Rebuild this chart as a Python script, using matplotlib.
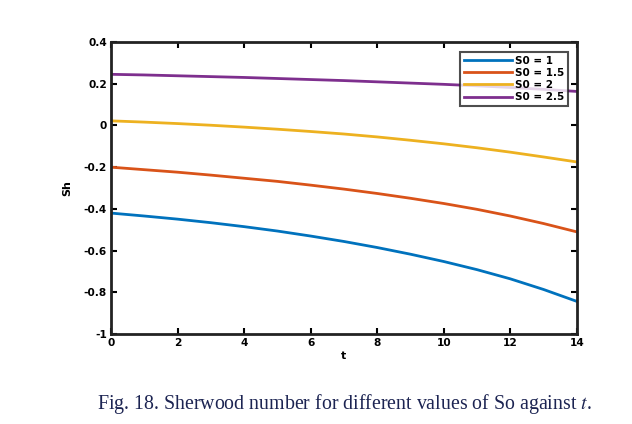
import matplotlib
matplotlib.use("Agg")
import matplotlib.pyplot as plt
import numpy as np

t = [0, 1, 2, 3, 4, 5, 6, 7, 8, 9, 10, 11, 12, 13, 14]
sh_s1 = [-0.420, -0.434, -0.449, -0.466, -0.485, -0.506, -0.530, -0.556, -0.585, -0.617, -0.652, -0.691, -0.735, -0.786, -0.843]
sh_s15 = [-0.200, -0.212, -0.224, -0.238, -0.253, -0.268, -0.286, -0.305, -0.326, -0.349, -0.374, -0.402, -0.434, -0.470, -0.510]
sh_s2 = [0.022, 0.016, 0.009, 0.001, -0.008, -0.018, -0.029, -0.041, -0.055, -0.071, -0.088, -0.107, -0.128, -0.151, -0.175]
sh_s25 = [0.245, 0.242, 0.238, 0.234, 0.230, 0.225, 0.220, 0.215, 0.209, 0.203, 0.197, 0.190, 0.182, 0.173, 0.163]
labels = ["S0 = 1", "S0 = 1.5", "S0 = 2", "S0 = 2.5"]
colors = ["#0072BD", "#D95319", "#EDB120", "#7E2F8E"]
xticks = [0, 2, 4, 6, 8, 10, 12, 14]
yticks = [-1, -0.8, -0.6, -0.4, -0.2, 0, 0.2, 0.4]
ytick_labels = ["-1", "-0.8", "-0.6", "-0.4", "-0.2", "0", "0.2", "0.4"]

plt.rcParams['font.family'] = ['DejaVu Sans']
fig = plt.figure(figsize=(6.32, 4.24), dpi=100)
ax = fig.add_axes([0.1756, 0.212, 0.737, 0.689])

for y, lab, c in zip([sh_s1, sh_s15, sh_s2, sh_s25], labels, colors):
    ax.plot(t, y, color=c, lw=2.0, label=lab)

ax.set_xlim(0, 14)
ax.set_ylim(-1, 0.4)
ax.set_xticks(xticks)
ax.set_xticklabels([str(v) for v in xticks], fontweight='bold', fontsize=7.6)
ax.set_yticks(yticks)
ax.set_yticklabels(ytick_labels, fontweight='bold', fontsize=7.6)
ax.tick_params(direction='in', length=4, width=1.5, top=True, right=True, pad=3)
for s in ax.spines.values():
    s.set_linewidth(2.0)
    s.set_color('#222222')
ax.set_xlabel('t', fontweight='bold', fontsize=8, labelpad=2)
ax.set_ylabel('Sh', fontweight='bold', fontsize=8, labelpad=8)

leg = ax.legend(loc='upper right', bbox_to_anchor=(0.981, 0.966), prop={'weight': 'bold', 'size': 7.5},
                frameon=True, fancybox=False, handlelength=4.6, handletextpad=0.3,
                labelspacing=0.22, borderpad=0.35, borderaxespad=0.0)
leg.get_frame().set_edgecolor('#222222')
leg.get_frame().set_linewidth(1.5)

fig.text(0.545, 0.047, "Fig. 18. Sherwood number for different values of So against $t$.",
         ha='center', va='center', fontsize=14.3, color='#1c2452',
         family=['Liberation Serif', 'DejaVu Serif'], math_fontfamily='stix')

fig.savefig("out.png", dpi=100)
